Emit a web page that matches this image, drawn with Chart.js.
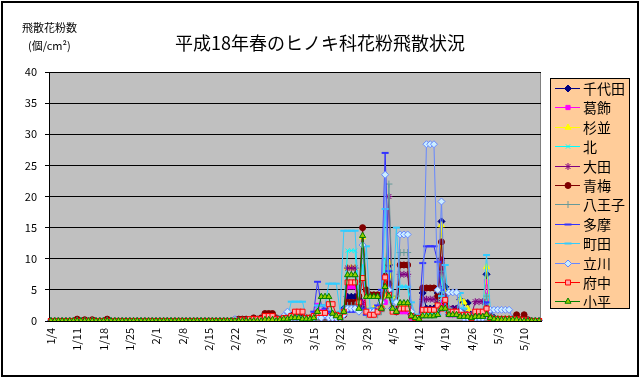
<!DOCTYPE html>
<html>
<head>
<meta charset="utf-8">
<script src="https://cdn.jsdelivr.net/npm/chart.js@4.4.1/dist/chart.umd.min.js"></script>
<style>
  html, body { margin: 0; padding: 0; background: #fff; }
</style>
</head>
<body>
<canvas id="pollen" width="641" height="379"></canvas>
<script>
// categories: 1/4 - 5/14 (daily)
const dates = [
  "1/4","1/5","1/6","1/7","1/8","1/9","1/10","1/11","1/12","1/13","1/14","1/15","1/16","1/17",
  "1/18","1/19","1/20","1/21","1/22","1/23","1/24","1/25","1/26","1/27","1/28","1/29","1/30","1/31",
  "2/1","2/2","2/3","2/4","2/5","2/6","2/7","2/8","2/9","2/10","2/11","2/12","2/13","2/14",
  "2/15","2/16","2/17","2/18","2/19","2/20","2/21","2/22","2/23","2/24","2/25","2/26","2/27","2/28",
  "3/1","3/2","3/3","3/4","3/5","3/6","3/7","3/8","3/9","3/10","3/11","3/12","3/13","3/14",
  "3/15","3/16","3/17","3/18","3/19","3/20","3/21","3/22","3/23","3/24","3/25","3/26","3/27","3/28",
  "3/29","3/30","3/31","4/1","4/2","4/3","4/4","4/5","4/6","4/7","4/8","4/9","4/10","4/11",
  "4/12","4/13","4/14","4/15","4/16","4/17","4/18","4/19","4/20","4/21","4/22","4/23","4/24","4/25",
  "4/26","4/27","4/28","4/29","4/30","5/1","5/2","5/3","5/4","5/5","5/6","5/7","5/8","5/9",
  "5/10","5/11","5/12","5/13","5/14"
];

// 飛散花粉数 (個/cm2), one row per week starting 1/4
const chiyoda = [
  0,0,0,0,0,0,0, 0,0,0,0,0,0,0, 0,0,0,0,0,0,0, 0,0,0,0,0,0,0,
  0,0,0,0,0,0,0, 0,0,0,0,0,0,0, 0,0,0,0,0,0,0, 0,0,0,0,0,0,0,
  0,0.3,0.3,0.3,0,0.2,0.5,
  0.5,0.8,0.8,0.8,0.5,0.3,0.3,
  0.5,1,0.7,0.7,0.7,0.7,0.5,
  0.8,2,3.9,3.9,3.9,3.5,2,
  1.5,1.2,1.5,1.5,2,4,9,
  2,1.5,2.5,2.5,2.5,1,0.5,
  0.5,4.5,2,2,2,4.5,16,
  5.5,1.5,2,2,3.4,3,2.9,
  1,1,1,1,7.5,1,0.5,
  0.3,0.3,0.3,0.3,0.3,0.3,0,
  0,0,0,0,0
];
const katsushika = [
  0,0,0,0,0,0,0, 0,0,0,0,0,0,0, 0,0,0,0,0,0,0, 0,0,0,0,0,0,0,
  0,0,0,0,0,0,0, 0,0,0,0,0,0,0, 0,0,0,0,0,0,0, 0,0,0,0,0,0,0,
  0,0.2,0.2,0.2,0,0.2,0.3,
  0.5,0.5,0.5,0.5,0.3,0.3,0.5,
  1,2.5,1.5,1.5,1,1,0.5,
  0.8,1.5,5.5,5.5,5.5,2,3,
  1.5,1,1.5,1.5,2,3,5,
  2,1.5,1.5,1.5,1.5,0.5,0.5,
  0.3,1.5,1.5,1.5,1.5,1.5,3,
  2.5,1,1,1,1.2,1,0.8,
  0.5,1.5,1.5,1.5,6.3,0.8,0.3,
  0.2,0.2,0.2,0.2,0.2,0.2,0,
  0,0,0,0,0
];
const suginami = [
  0,0,0,0,0,0,0, 0,0,0,0,0,0,0, 0,0,0,0,0,0,0, 0,0,0,0,0,0,0,
  0,0,0,0,0,0,0, 0,0,0,0,0,0,0, 0,0,0,0,0,0,0, 0,0,0,0,0,0,0,
  0,0.2,0.2,0.2,0,0.2,0.3,
  0.3,0.5,0.5,0.5,0.3,0.3,0.3,
  0.5,1,0.6,0.6,0.6,0.8,0.5,
  0.8,1.5,8.5,8.5,8.5,3,13.5,
  2,1.5,2,2,2.5,4,9.4,
  4,2,2.5,2.5,2.5,1,0.5,
  0.5,1.5,1.5,1.5,1.5,3,15.4,
  4.5,2,1.5,1.5,3.5,3,2,
  0.8,1,1,1,8.7,1,0.3,
  0.3,0.3,0.3,0.3,0.3,0.2,0,
  0,0,0,0,0
];
const kita = [
  0,0,0,0,0,0,0, 0,0,0,0,0,0,0, 0,0,0,0,0,0,0, 0,0,0,0,0,0,0,
  0,0,0,0,0,0,0, 0,0,0,0,0,0,0, 0,0,0,0,0,0,0, 0,0,0,0,0,0,0,
  0,0.2,0.2,0.2,0,0.5,0.7,
  0.5,0.5,0.5,0.5,0.3,0.3,0.5,
  0.8,2,1.5,1.5,1.5,1,0.5,
  0.8,2,11.3,11.3,11.3,3,9,
  1.5,1.5,1.5,1.5,2,10,8,
  2,2,5.5,5.5,5.5,1,0.5,
  0.5,1,1,1,1,2,7,
  3,1.5,1.5,1.5,2,1.5,1,
  0.5,1,1,1,4,1,0.5,
  0.3,0.3,0.3,0.3,0.3,0.2,0,
  0,0,0,0,0
];
const ota = [
  0,0,0,0,0,0,0, 0,0,0,0,0,0,0, 0,0,0,0,0,0,0, 0,0,0,0,0,0,0,
  0,0,0,0,0,0,0, 0,0,0,0,0,0,0, 0,0,0,0,0,0,0, 0,0,0,0,0,0,0,
  0,0.2,0.2,0.2,0,0.2,0.3,
  0.3,0.5,0.5,0.5,0.3,0.2,0.3,
  0.5,0.8,0.8,0.8,0.8,0.8,0.5,
  0.8,1.5,8.5,8.5,8.5,2,3,
  1.5,1.5,1.5,1.5,2,5,20,
  2,2,7.5,7.5,7.5,1,0.5,
  0.5,3.5,3.5,3.5,3.5,3,9.8,
  4,2,2,2,1.5,1.5,1,
  1,3.1,3.1,3.1,2,1,0.3,
  0.2,0.2,0.2,0.2,0.2,0.2,0,
  0,0,0,0,0
];
const ome = [
  0,0,0,0,0,0,0, 0.3,0,0.2,0,0.2,0,0, 0,0.3,0,0,0,0,0, 0,0,0,0,0,0,0,
  0,0,0,0,0,0,0, 0,0,0,0,0,0,0, 0,0,0,0,0,0,0, 0.2,0.3,0.3,0.3,0,0.5,0.3,
  0.5,1.2,1.2,1.2,0.5,0.3,0.5,
  0.5,0.8,0.8,0.8,0.5,0.5,0.5,
  0.6,0.8,0.6,0.6,0.6,0.6,0.6,
  0.5,1,3,3,3,4,15,
  5,4.2,4.2,4.2,4.2,7.2,6,
  2,1.5,9,9,9,1,0.5,
  0.5,5.3,5.3,5.3,5.3,4,12.7,
  3,1.5,1.5,1.5,1,1,0.8,
  0.5,0.8,0.8,0.8,2,0.5,0.3,
  0.3,0.3,0.3,0.3,0.3,1,0.2,
  1,0.2,0,0,0
];
const hachioji = [
  0,0,0,0,0,0,0, 0,0,0,0,0,0,0, 0,0,0,0,0,0,0, 0,0,0,0,0,0,0,
  0,0,0,0,0,0,0, 0,0,0,0,0,0,0, 0,0,0,0,0,0,0, 0,0,0,0,0,0,0,
  0,0.2,0.2,0.2,0,0.2,0.3,
  0.3,0.5,0.5,0.5,0.3,0.2,0.3,
  0.4,0.5,0.4,0.4,0.4,0.4,0.4,
  0.5,1,2.5,2.5,2.5,1.5,2,
  1,1,1,1,1.5,5,22,
  3,4,11,11,11,1,0.5,
  0.5,1,1,1,1,2,8,
  3,1,1,1,1,1,0.5,
  0.5,0.8,0.8,0.8,4,0.5,0.3,
  0.2,0.2,0.2,0.2,0.2,0.2,0,
  0,0,0,0,0
];
const tama = [
  0,0,0,0,0,0,0, 0,0,0,0,0,0,0, 0,0,0,0,0,0,0, 0,0,0,0,0,0,0,
  0,0,0,0,0,0,0, 0,0,0,0,0,0,0, 0,0,0,0,0,0,0, 0,0,0,0,0,0,0,
  0,0.2,0.2,0.2,0,0.2,0.3,
  0.3,0.5,0.5,0.5,0.3,0.3,0.5,
  1.5,6.3,2.5,2,1.5,1,0.8,
  0.8,2,1.5,1.5,1.5,2,2,
  1,1.5,2,2.5,5,27,8,
  2,1.5,2,2,2,1,0.5,
  0.5,9.3,12,12,12,9.5,5,
  2,1,1,1,1,1,0.5,
  0.5,1,1,1,3,0.5,0.3,
  0.2,0.2,0.2,0.2,0.2,0.2,0,
  0,0,0,0,0
];
const machida = [
  0,0,0,0,0,0,0, 0,0,0,0,0,0,0, 0,0,0,0,0,0,0, 0,0,0,0,0,0,0,
  0,0,0,0,0,0,0, 0,0,0,0,0,0,0, 0,0,0,0,0,0,0, 0,0,0,0,0,0,0,
  0,0.2,0.2,0.2,0.3,0.7,0.8,
  0.5,3.1,3.1,3.1,3.1,0.5,0.5,
  0.5,2.5,2.5,2.5,6,6,6,
  1.5,14.5,14.5,14.5,14.5,3,6,
  12,2,1.5,1.5,2,18,5,
  3,15,5.5,5.5,5.5,3,1,
  1,1,1,1,1,1,4,
  9,2,1,1,4.5,2,1,
  1,1.5,1.5,1.5,10.6,2,0.5,
  0.3,0.3,0.3,0.3,0.3,0.3,0,
  0,0,0,0,0
];
const tachikawa = [
  0,0,0,0,0,0,0, 0,0,0,0,0,0,0, 0,0,0,0,0,0,0, 0,0,0,0,0,0,0,
  0,0,0,0,0,0,0, 0,0,0,0,0,0,0, 0,0,0,0,0,0,0, 0.3,0,0,0,0,0,0.2,
  0.2,0.3,0.3,0.3,0.2,0.3,0.8,
  1.5,0.5,0.5,0.5,0.3,0.3,0.3,
  0.5,0.8,0.5,1,0.5,0.5,0.5,
  0.5,1,2,2,2,1.5,12.2,
  1.5,1.5,1.5,1.5,3,23.5,5,
  2,3,13.9,13.9,13.9,1.5,0.5,
  0.5,1,28.4,28.4,28.4,5,19.2,
  2,4.6,4.6,4.6,1.5,0.5,0.5,
  0.5,0.5,0.5,0.5,1,1.8,1.8,
  1.8,1.8,1.8,1.8,0.3,0.2,0,
  0,0,0,0,0
];
const fuchu = [
  0,0,0,0,0,0,0, 0,0,0,0,0,0,0, 0,0,0,0,0,0,0, 0,0,0,0,0,0,0,
  0,0,0,0,0,0,0, 0,0,0,0,0,0,0, 0,0,0,0,0,0,0, 0,0,0.2,0,0.3,0.3,0.3,
  0.3,0.8,0.8,0.8,0.3,0.3,0.5,
  0.5,0.8,1.5,1.5,1.5,0.5,0.5,
  0.8,1.3,1.3,1.3,2.7,2.7,1,
  0.8,1.5,6.2,6.2,6.2,3,6.9,
  1.5,1,1,1.5,2,7,4.2,
  1.5,1.5,2,2,2,0.8,0.5,
  0.5,1.8,1.8,1.8,1.8,2.5,2,
  3.4,1.5,1.5,1.5,1,1,1,
  0.5,1.5,1.5,1.5,2,0.5,0.3,
  0.3,0.3,0.3,0.3,0.3,0.3,0.2,
  0.2,0,0,0,0
];
const kodaira = [
  0,0,0,0,0,0,0, 0,0,0,0,0,0,0, 0,0,0,0,0,0,0, 0,0,0,0,0,0,0,
  0,0,0,0,0,0,0, 0,0,0,0,0,0,0, 0,0,0,0,0,0,0, 0,0,0,0,0,0,0,
  0,0.2,0.2,0.2,0,0.2,0.3,
  0.3,0.5,0.5,0.5,0.3,0.3,0.3,
  0.5,1.5,3.9,3.9,3.9,1.2,0.8,
  0.5,1.5,7.4,7.4,7.4,2,13.7,
  3.9,3.9,3.9,3.9,2,5.5,4,
  2,1.5,2.9,2.9,2.9,0.8,0.5,
  0.3,0.8,0.8,0.8,0.8,1,2,
  2,1,1,1,0.7,0.7,0.7,
  0.5,0.7,0.7,0.7,1,0.5,0.3,
  0.2,0.2,0.2,0.2,0.2,0.2,0,
  0,0,0,0,0
];

const FONT = "'Noto Sans CJK JP', 'DejaVu Sans', sans-serif";
Chart.defaults.font.family = FONT;
Chart.defaults.color = "#000";

function series(label, data, color, style) {
  return Object.assign({
    label: label,
    data: data,
    borderColor: color,
    backgroundColor: color,
    borderWidth: 1,
    tension: 0,
    pointStyle: "circle",
    pointRadius: 3,
    pointBorderWidth: 1,
    pointBorderColor: color,
    pointBackgroundColor: color
  }, style);
}

const datasets = [
  series("千代田", chiyoda, "#000080", { pointStyle: "rectRot", pointRadius: 3.5 }),
  series("葛飾", katsushika, "#FF00FF", { pointStyle: "rect", pointRadius: 3 }),
  series("杉並", suginami, "#FFFF00", { pointStyle: "triangle", pointRadius: 3.5 }),
  series("北", kita, "#00FFFF", { pointStyle: "crossRot", pointRadius: 3 }),
  series("大田", ota, "#800080", { pointStyle: "star", pointRadius: 3.5 }),
  series("青梅", ome, "#800000", { pointStyle: "circle", pointRadius: 3 }),
  series("八王子", hachioji, "#669999", { pointStyle: "cross", pointRadius: 3.5 }),
  series("多摩", tama, "#3333FF", { pointStyle: "line", pointRadius: 3.5, pointBorderWidth: 2 }),
  series("町田", machida, "#33CCFF", { pointStyle: "line", pointRadius: 3.5, pointBorderWidth: 2 }),
  series("立川", tachikawa, "#6688FF", { pointStyle: "rectRot", pointRadius: 3.5, pointBackgroundColor: "#CCEEFF" }),
  series("府中", fuchu, "#FF0000", { pointStyle: "rect", pointRadius: 3.5, pointBackgroundColor: "#FFAAAA" }),
  series("小平", kodaira, "#008000", { pointStyle: "triangle", pointRadius: 3.5, pointBackgroundColor: "#99CC00" })
];
// later series are painted on top, as in the original
datasets.forEach((d, i) => { d.order = datasets.length - 1 - i; });

const decor = {
  id: "decor",
  beforeDraw(chart) {
    const ctx = chart.ctx, a = chart.chartArea;
    ctx.save();
    ctx.fillStyle = "#fff";
    ctx.fillRect(0, 0, chart.width, chart.height);
    ctx.fillStyle = "#C0C0C0";
    ctx.fillRect(a.left, a.top, a.right - a.left, a.bottom - a.top);
    ctx.strokeStyle = "#808080";
    ctx.lineWidth = 1;
    ctx.strokeRect(a.left + 0.5, a.top + 0.5, a.right - a.left - 1, a.bottom - a.top - 1);
    ctx.restore();
  },
  afterDraw(chart) {
    const ctx = chart.ctx;
    ctx.save();
    // outer frame
    ctx.strokeStyle = "#000";
    ctx.lineWidth = 2;
    ctx.strokeRect(2, 2, 636, 374);

    // title and unit
    ctx.fillStyle = "#000";
    ctx.textBaseline = "middle";
    ctx.textAlign = "center";
    ctx.font = "18px " + FONT;
    ctx.fillText("平成18年春のヒノキ科花粉飛散状況", 320, 43);
    ctx.textAlign = "left";
    ctx.font = "11px " + FONT;
    ctx.fillText("飛散花粉数", 22, 28);
    ctx.fillText("(個/cm²)", 28, 46);

    // legend
    const lx = 550, ly = 78, lw = 79, lh = 230;
    ctx.fillStyle = "#FFCC99";
    ctx.fillRect(lx, ly, lw, lh);
    ctx.strokeStyle = "#000";
    ctx.lineWidth = 1;
    ctx.strokeRect(lx + 0.5, ly + 0.5, lw, lh);
    datasets.forEach((d, i) => {
      const y = Math.round(88 + i * 19.4) + 0.5;
      ctx.strokeStyle = d.borderColor;
      ctx.lineWidth = 1;
      ctx.beginPath();
      ctx.moveTo(555, y);
      ctx.lineTo(580, y);
      ctx.stroke();
      ctx.fillStyle = d.pointBackgroundColor;
      ctx.strokeStyle = d.pointBorderColor;
      ctx.lineWidth = d.pointBorderWidth;
      Chart.helpers.drawPoint(ctx, {
        pointStyle: d.pointStyle, radius: d.pointRadius, rotation: 0, borderWidth: d.pointBorderWidth
      }, 568, y);
      ctx.fillStyle = "#000";
      ctx.font = "14px " + FONT;
      ctx.textAlign = "left";
      ctx.fillText(d.label, 583, y);
    });
    ctx.restore();
  }
};

new Chart(document.getElementById("pollen"), {
  type: "line",
  data: { labels: dates, datasets: datasets },
  plugins: [decor],
  options: {
    responsive: false,
    animation: false,
    devicePixelRatio: 1,
    layout: { padding: { left: 0, right: 100, top: 72, bottom: 0 } },
    plugins: { legend: { display: false }, title: { display: false }, tooltip: { enabled: false } },
    scales: {
      x: {
        offset: true,
        grid: { display: false, drawTicks: false },
        border: { display: true, color: "#000", width: 1 },
        afterBuildTicks: s => { s.ticks = s.ticks.filter(t => t.value % 7 === 0); },
        afterFit: s => { s.height = 58; },
        ticks: { autoSkip: false, minRotation: 90, maxRotation: 90, padding: 7, font: { size: 11 }, color: "#000" }
      },
      y: {
        min: 0,
        max: 40,
        afterFit: s => { s.width = 49; },
        grid: { color: "#000", lineWidth: 1, tickLength: 4 },
        border: { display: true, color: "#000", width: 1 },
        ticks: { stepSize: 5, padding: 8, font: { size: 11 }, color: "#000" }
      }
    }
  }
});
</script>
</body>
</html>
